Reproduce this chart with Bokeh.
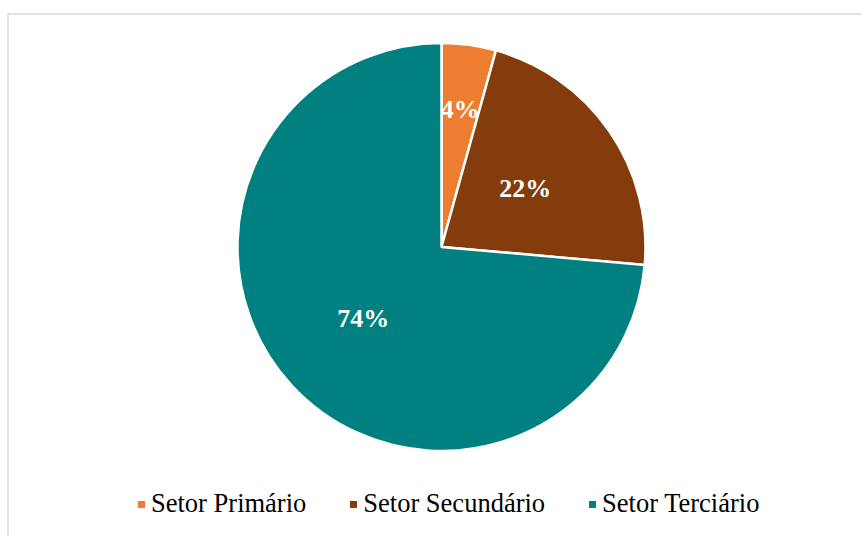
import numpy as np
from bokeh.plotting import figure
from bokeh.models import Range1d, Legend, LegendItem, ColumnDataSource
from bokeh.core.properties import value
from bokeh.embed import file_html
from bokeh.resources import INLINE

# Data
categories = ["Setor Primário", "Setor Secundário", "Setor Terciário"]
shares = [4.3, 22.1, 73.6]
labels = ["4%", "22%", "74%"]
colors = ["#ED7D31", "#843C0C", "#008080"]

# Layout
W, H = 861, 536
cx, cy = 441, 536 - 246.5
R = 204
label_r = [0.68, 0.50, 0.52]

p = figure(width=W, height=H, output_backend="svg", toolbar_location=None,
           x_range=Range1d(0, W), y_range=Range1d(0, H), min_border=0,
           outline_line_color=None)
p.axis.visible = False
p.grid.visible = False
p.background_fill_color = "white"
p.border_fill_color = "white"

# chart frame
p.quad(left=[7.5], right=[W + 20], bottom=[-20], top=[H - 13.5],
       fill_color=None, line_color="#D9D9D9", line_width=1.5)

frac = np.array(shares) / np.sum(shares)
cum_end = np.cumsum(frac)
cum_start = cum_end - frac
start_angle = np.pi / 2 - 2 * np.pi * cum_end
end_angle = np.pi / 2 - 2 * np.pi * cum_start
mid = 2 * np.pi * (cum_start + cum_end) / 2
lx = cx + np.array(label_r) * R * np.sin(mid)
ly = cy + np.array(label_r) * R * np.cos(mid)

src = ColumnDataSource(dict(cat=categories, start=start_angle, end=end_angle,
                            color=colors, lx=lx, ly=ly, lab=labels))
items = []
for i, c in enumerate(categories):
    r = p.wedge(x=cx, y=cy, radius=R, start_angle=start_angle[i], end_angle=end_angle[i],
                fill_color=colors[i], line_color="white", line_width=2.5)
    items.append(LegendItem(label=c, renderers=[r]))

p.text(x="lx", y="ly", text="lab", source=src, text_color="white",
       text_font=value("Liberation Serif"), text_font_style="bold",
       text_font_size="26px", text_align="center", text_baseline="middle")

legend = Legend(items=items, orientation="horizontal", location=(135, 17),
                glyph_width=12, glyph_height=12, label_standoff=4, spacing=41,
                label_text_font="Liberation Serif", label_text_font_size="26.5px",
                label_text_color="black", padding=0, margin=0,
                border_line_alpha=0, background_fill_alpha=0)
p.add_layout(legend, "center")

open("out.html", "w").write(file_html(p, INLINE))
